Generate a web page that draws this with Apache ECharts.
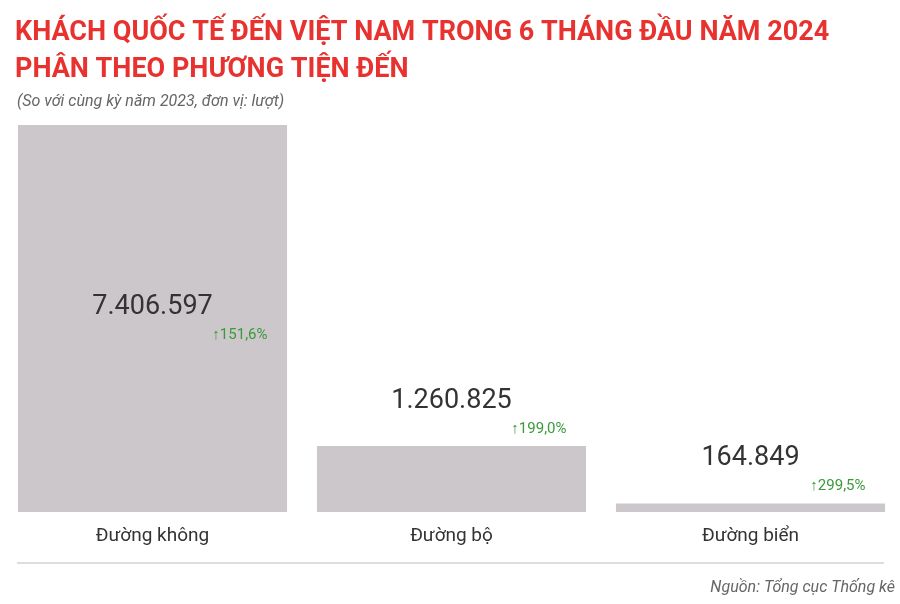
<!DOCTYPE html>
<html><head><meta charset="utf-8">
<script src="https://cdn.jsdelivr.net/npm/echarts@6/dist/echarts.min.js"></script>
<style>html,body{margin:0;padding:0;background:#fff}#c{width:900px;height:604px}</style>
</head><body><div id="c"></div>
<script>
const categories = ['Đường không', 'Đường bộ', 'Đường biển'];
const values = [7406597, 1260825, 164849];
const valueLabels = ['7.406.597', '1.260.825', '164.849'];
const growth = ['151,6%', '199,0%', '299,5%'];

const chart = echarts.init(document.getElementById('c'));
const rich = {
  v: {fontSize: 27, color: '#333', fontFamily: 'Roboto', width: 230, align: 'center', lineHeight: 34},
  p: {fontSize: 15, color: '#3a9a3a', fontFamily: 'Roboto', width: 230, align: 'right', lineHeight: 22}
};
chart.setOption({
  backgroundColor: '#fff',
  title: [
    {text: 'KHÁCH QUỐC TẾ ĐẾN VIỆT NAM TRONG 6 THÁNG ĐẦU NĂM 2024\nPHÂN THEO PHƯƠNG TIỆN ĐẾN', left: 10, top: 10,
     textStyle: {color: '#e8322f', fontSize: 27, fontWeight: 'bold', lineHeight: 37, fontFamily: '"Liberation Sans Narrow", "Roboto", sans-serif'}},
    {text: '(So với cùng kỳ năm 2023, đơn vị: lượt)', left: 12, top: 89,
     textStyle: {color: '#666', fontSize: 16, fontStyle: 'italic', fontWeight: 'normal', fontFamily: 'Roboto'}},
    {text: 'Nguồn: Tổng cục Thống kê', right: 0, top: 575,
     textStyle: {color: '#666', fontSize: 16, fontStyle: 'italic', fontWeight: 'normal', fontFamily: 'Roboto'}}
  ],
  graphic: [{type: 'rect', shape: {x: 17, y: 562, width: 867, height: 2}, style: {fill: '#ddd'}}],
  grid: {left: 3, right: 0, top: 125, bottom: 92},
  xAxis: {type: 'category', data: categories,
    axisLine: {show: false}, axisTick: {show: false},
    axisLabel: {fontSize: 19, color: '#333', margin: 15, fontFamily: 'Roboto'}},
  yAxis: {type: 'value', min: 0, max: 7406597, show: false},
  series: [{
    type: 'bar', barWidth: '90%',
    itemStyle: {color: '#cbc7cb'},
    data: values.map((v, i) => ({
      value: v,
      label: {show: true, position: i === 0 ? 'inside' : 'top', distance: 6,
        formatter: () => '{v|' + valueLabels[i] + '}\n{p|↑' + growth[i] + '}', rich}
    }))
  }]
});
</script></body></html>
